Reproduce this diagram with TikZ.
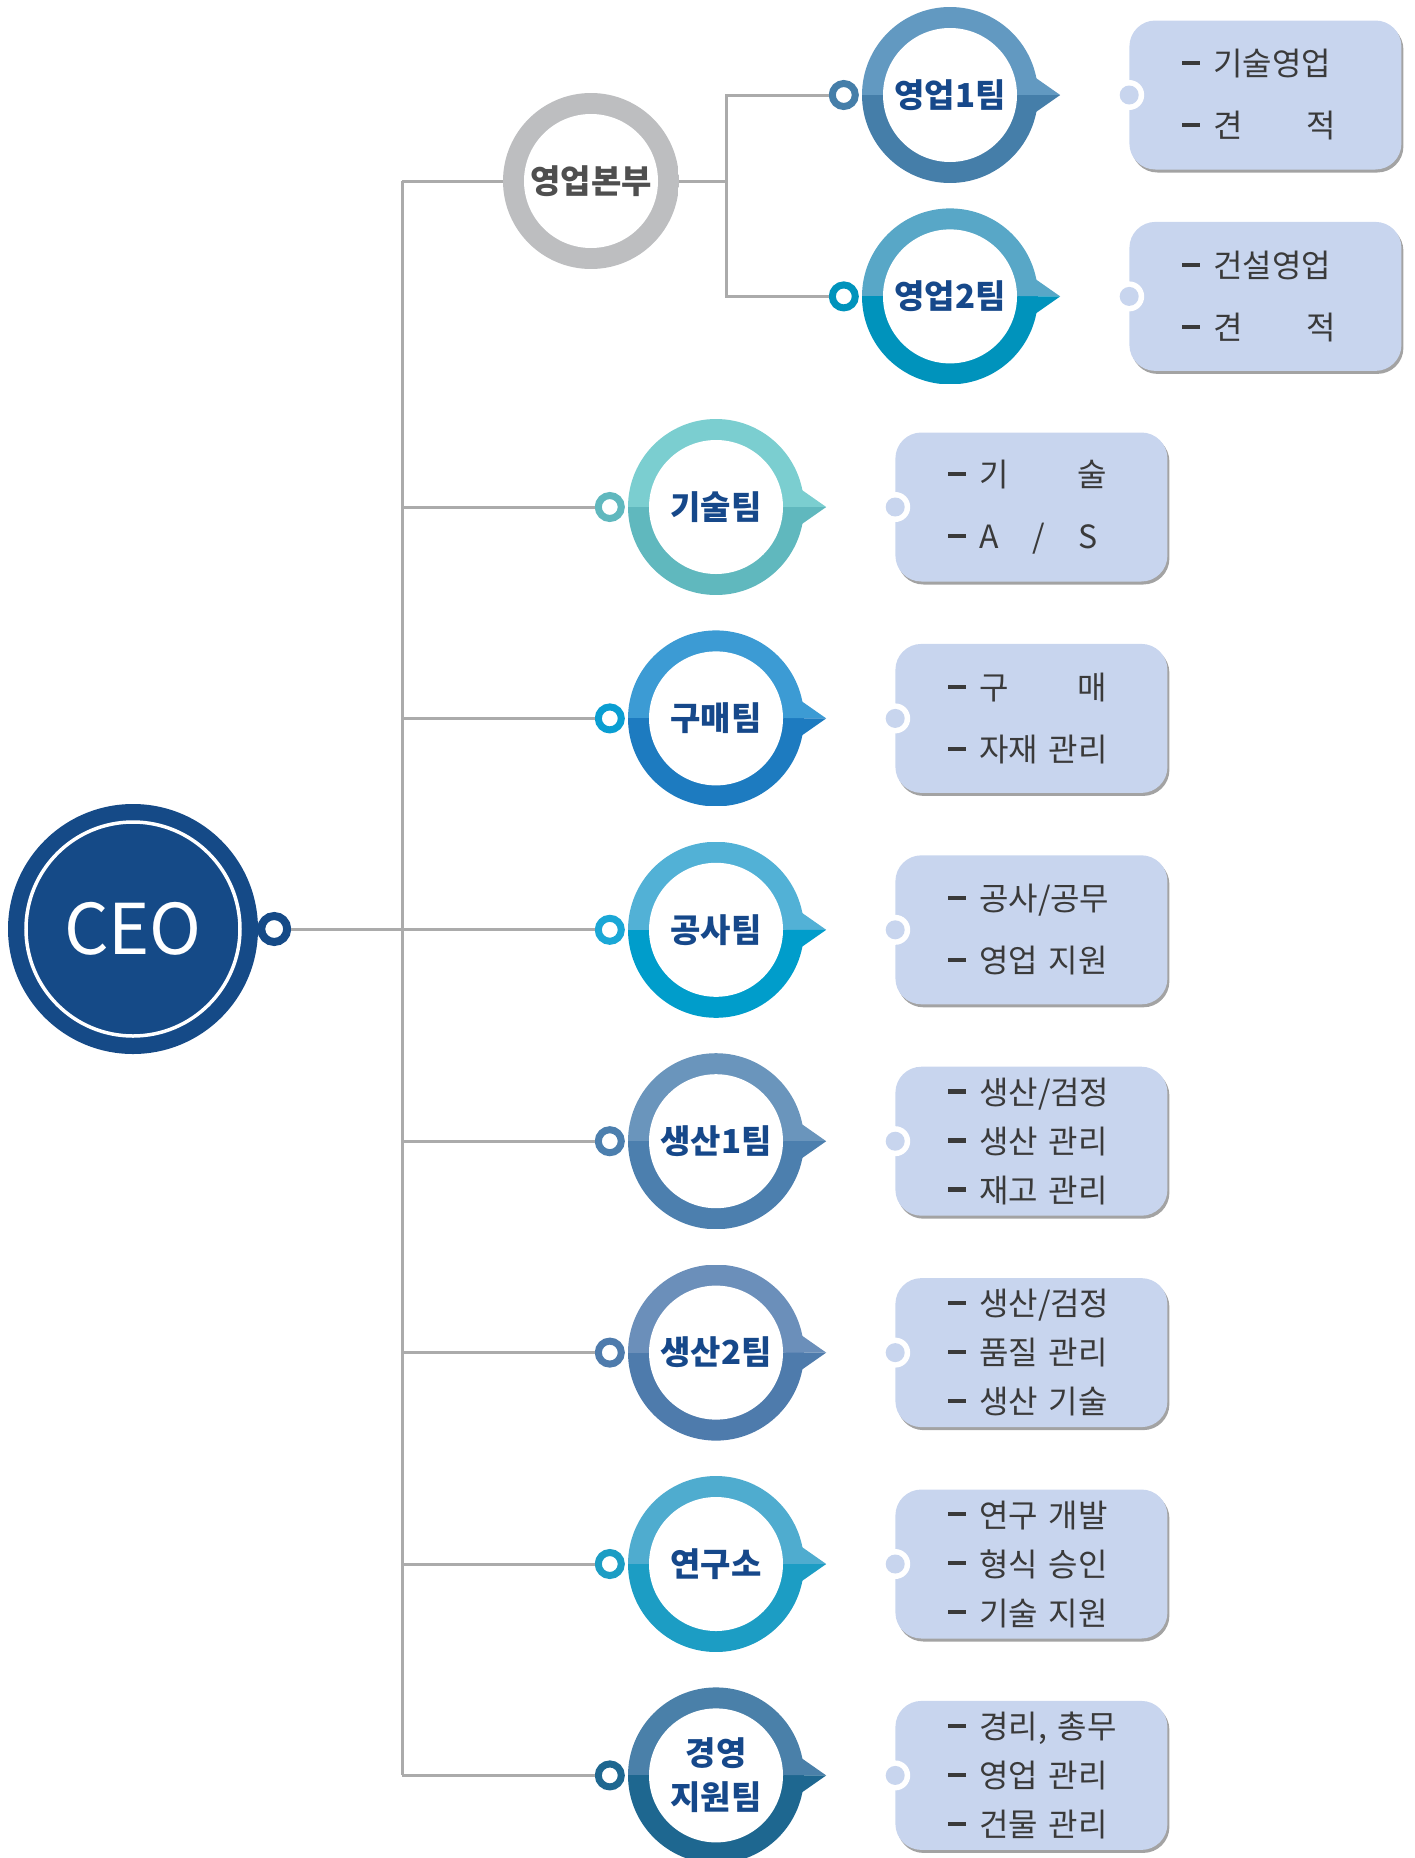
\documentclass[tikz,border=0pt]{standalone}
\usepackage{fontspec}
\setmainfont{Noto Sans CJK KR}
\usetikzlibrary{positioning,shadows}

\definecolor{ceoblue}{HTML}{154A87}
\definecolor{titleblue}{HTML}{16488A}
\definecolor{linegray}{HTML}{ABABAB}
\definecolor{boxblue}{HTML}{C8D5EE}
\definecolor{textgray}{HTML}{3A3A3A}
\definecolor{hqgray}{HTML}{BDBEC0}
\definecolor{hqtext}{HTML}{4F4F4F}
\definecolor{salesAlight}{HTML}{6299C1}
\definecolor{salesAdark}{HTML}{457EA9}
\definecolor{salesBlight}{HTML}{58A7C7}
\definecolor{salesBdark}{HTML}{0093BC}
\definecolor{techlight}{HTML}{7BCED0}
\definecolor{techdark}{HTML}{60B8BE}
\definecolor{buylight}{HTML}{3C9BD4}
\definecolor{buydark}{HTML}{1D7BC0}
\definecolor{buydot}{HTML}{0A9ED2}
\definecolor{conslight}{HTML}{52B1D6}
\definecolor{consdark}{HTML}{009DCB}
\definecolor{consdot}{HTML}{1AA7D6}
\definecolor{prodAlight}{HTML}{6A95BC}
\definecolor{prodAdark}{HTML}{4C7FAE}
\definecolor{prodBlight}{HTML}{6B8FBA}
\definecolor{prodBdark}{HTML}{4E7BAC}
\definecolor{lablight}{HTML}{4FACCF}
\definecolor{labdark}{HTML}{1C9DC4}
\definecolor{mgmtlight}{HTML}{4A80A9}
\definecolor{mgmtdark}{HTML}{1E6790}

\newcommand\dashmark{\rule[0.33em]{0.56em}{0.13em}\hspace{0.4em}}
\newcommand\dline[1]{\mbox{\dashmark#1}}
% speech-bubble tip on the right of a ring
\newcommand\pointer[3]{%
  \fill[#2] ([xshift=-18pt,yshift=28pt]#1.east) -- ([xshift=22pt]#1.east) -- ([xshift=-18pt]#1.east) -- cycle;
  \fill[#3] ([xshift=-18pt,yshift=-28pt]#1.east) -- ([xshift=22pt]#1.east) -- ([xshift=-18pt]#1.east) -- cycle;}

\begin{document}
\begin{tikzpicture}[x=1pt, y=-1pt,
  conn/.style={draw=linegray, line width=3pt},
  team/.style 2 args={circle, minimum size=176pt, inner sep=0pt, align=center, text=titleblue,
    font=\bfseries\fontsize{33}{44}\selectfont,
    path picture={
      \fill[#2] (path picture bounding box.south west) rectangle (path picture bounding box.east);
      \fill[#1] (path picture bounding box.west) rectangle (path picture bounding box.north east);
      \fill[white] (path picture bounding box.center) circle (67pt);}},
  dot/.style={circle, draw=#1, line width=7pt, fill=white, minimum size=23pt, inner sep=0pt},
  descbox/.style={rectangle, rounded corners=26pt, fill=boxblue, minimum width=272pt, minimum height=149pt,
    text width=166pt, inner xsep=53pt, inner ysep=0pt, align=left, text=textgray,
    font=\fontsize{32}{#1}\selectfont,
    drop shadow={shadow xshift=2pt, shadow yshift=-3pt, fill=black!60, opacity=0.6}}]
  \useasboundingbox (0,0) rectangle (1415,1858);

  % CEO
  \node[circle, fill=ceoblue, minimum size=250pt, inner sep=0pt, text=white, font=\fontsize{70}{70}\selectfont] (ceo) at (133,929) {CEO};
  \draw[white, line width=3.5pt] (ceo.center) circle (107pt);
  \node[dot=ceoblue, minimum size=26pt, line width=8pt, right=-1pt of ceo] (ceodot) {};
  \coordinate (trunk) at (402,929);

  % sales division
  \node[team={hqgray}{hqgray}, text=hqtext] (hq) at (591,181) {영업본부};
  \coordinate[right=47pt of hq] (split);
  \node[team={salesAlight}{salesAdark}] (salesA) at (950,95) {영업1팀};
  \node[team={salesBlight}{salesBdark}, below=25pt of salesA] (salesB) {영업2팀};

  % teams
  \node[team={techlight}{techdark}] (tech) at (716,507) {기술팀};
  \node[team={buylight}{buydark}, below=35pt of tech] (buy) {구매팀};
  \node[team={conslight}{consdark}, below=35pt of buy] (cons) {공사팀};
  \node[team={prodAlight}{prodAdark}, below=35pt of cons] (prodA) {생산1팀};
  \node[team={prodBlight}{prodBdark}, below=35pt of prodA] (prodB) {생산2팀};
  \node[team={lablight}{labdark}, below=35pt of prodB] (lab) {연구소};
  \node[team={mgmtlight}{mgmtdark}, below=35pt of lab] (mgmt) {경영\\지원팀};

  \pointer{salesA}{salesAlight}{salesAdark}
  \pointer{salesB}{salesBlight}{salesBdark}
  \pointer{tech}{techlight}{techdark}
  \pointer{buy}{buylight}{buydark}
  \pointer{cons}{conslight}{consdark}
  \pointer{prodA}{prodAlight}{prodAdark}
  \pointer{prodB}{prodBlight}{prodBdark}
  \pointer{lab}{lablight}{labdark}
  \pointer{mgmt}{mgmtlight}{mgmtdark}

  \node[dot=salesAdark, left=3pt of salesA] (salesAdot) {};
  \node[dot=salesBdark, left=3pt of salesB] (salesBdot) {};
  \node[dot=techdark, left=3pt of tech] (techdot) {};
  \node[dot=buydot, left=3pt of buy] (buydot) {};
  \node[dot=consdot, left=3pt of cons] (consdot) {};
  \node[dot=prodAdark, left=3pt of prodA] (prodAdot) {};
  \node[dot=prodBdark, left=3pt of prodB] (prodBdot) {};
  \node[dot=labdark, left=3pt of lab] (labdot) {};
  \node[dot=mgmtdark, left=3pt of mgmt] (mgmtdot) {};

  % duty boxes
  \node[descbox=62, right=91pt of salesA] (salesAbox) {\dline{기술영업}\\\dline{\makebox[3.85em][s]{견\hfill{}적}}};
  \node[descbox=62, right=91pt of salesB] (salesBbox) {\dline{건설영업}\\\dline{\makebox[3.85em][s]{견\hfill{}적}}};
  \node[descbox=62, right=91pt of tech] (techbox) {\dline{\makebox[4em][s]{기\hfill{}술}}\\\dline{\makebox[3.7em][s]{A\hfill{}/\hfill{}S}}};
  \node[descbox=62, right=91pt of buy] (buybox) {\dline{\makebox[4em][s]{구\hfill{}매}}\\\dline{자재 관리}};
  \node[descbox=62, right=91pt of cons] (consbox) {\dline{공사/공무}\\\dline{영업 지원}};
  \node[descbox=49, right=91pt of prodA] (prodAbox) {\dline{생산/검정}\\\dline{생산 관리}\\\dline{재고 관리}};
  \node[descbox=49, right=91pt of prodB] (prodBbox) {\dline{생산/검정}\\\dline{품질 관리}\\\dline{생산 기술}};
  \node[descbox=49, right=91pt of lab] (labbox) {\dline{연구 개발}\\\dline{형식 승인}\\\dline{기술 지원}};
  \node[descbox=49, right=91pt of mgmt] (mgmtbox) {\dline{경리, 총무}\\\dline{영업 관리}\\\dline{건물 관리}};

  \fill[white] (salesAbox.west) circle (15pt); \fill[boxblue] (salesAbox.west) circle (9.5pt);
  \fill[white] (salesBbox.west) circle (15pt); \fill[boxblue] (salesBbox.west) circle (9.5pt);
  \fill[white] (techbox.west) circle (15pt); \fill[boxblue] (techbox.west) circle (9.5pt);
  \fill[white] (buybox.west) circle (15pt); \fill[boxblue] (buybox.west) circle (9.5pt);
  \fill[white] (consbox.west) circle (15pt); \fill[boxblue] (consbox.west) circle (9.5pt);
  \fill[white] (prodAbox.west) circle (15pt); \fill[boxblue] (prodAbox.west) circle (9.5pt);
  \fill[white] (prodBbox.west) circle (15pt); \fill[boxblue] (prodBbox.west) circle (9.5pt);
  \fill[white] (labbox.west) circle (15pt); \fill[boxblue] (labbox.west) circle (9.5pt);
  \fill[white] (mgmtbox.west) circle (15pt); \fill[boxblue] (mgmtbox.west) circle (9.5pt);

  % connectors
  \draw[conn] (ceodot) -- (trunk);
  \draw[conn] (hq -| trunk) -- (mgmt -| trunk);
  \draw[conn] (hq -| trunk) -- (hq);
  \draw[conn] (hq) -- (split);
  \draw[conn] (salesAdot) -| (split) |- (salesBdot);
  \draw[conn] (tech -| trunk) -- (techdot);
  \draw[conn] (buy -| trunk) -- (buydot);
  \draw[conn] (cons -| trunk) -- (consdot);
  \draw[conn] (prodA -| trunk) -- (prodAdot);
  \draw[conn] (prodB -| trunk) -- (prodBdot);
  \draw[conn] (lab -| trunk) -- (labdot);
  \draw[conn] (mgmt -| trunk) -- (mgmtdot);
\end{tikzpicture}
\end{document}
